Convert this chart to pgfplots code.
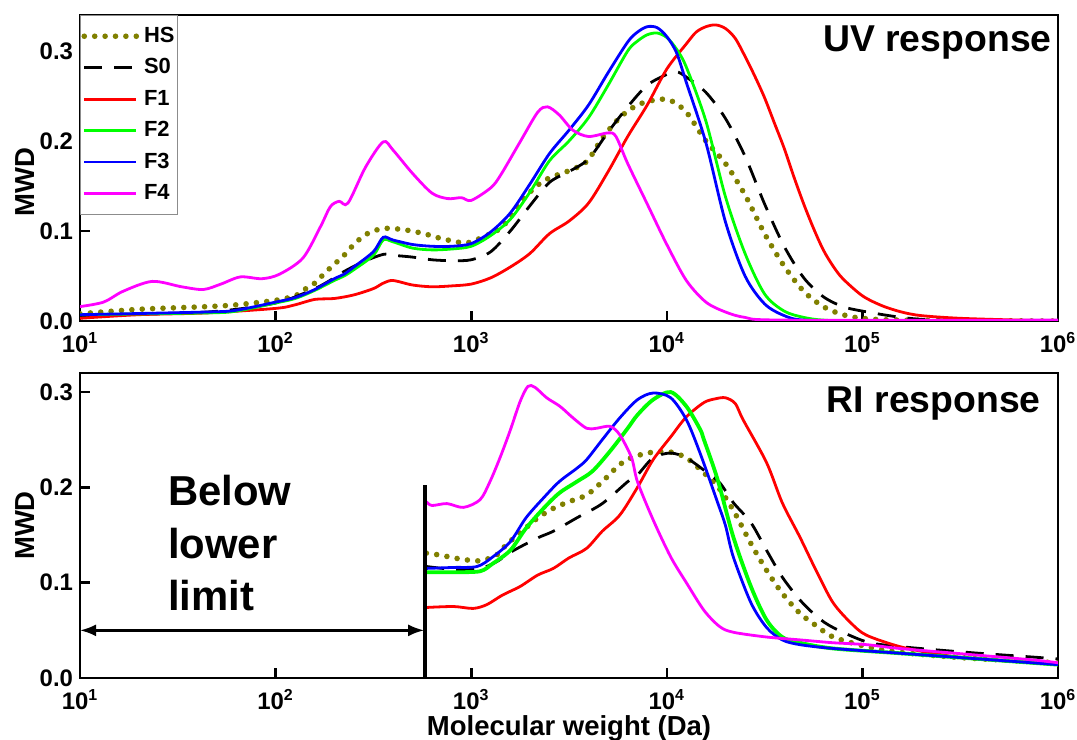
\documentclass[border=0pt]{standalone}
\usepackage{fontspec}
\setmainfont{Liberation Sans}
\usepackage{pgfplots}
\pgfplotsset{compat=1.18}
\usetikzlibrary{arrows.meta}
\definecolor{hsol}{RGB}{128,128,0}
\definecolor{cF1}{RGB}{255,0,0}
\definecolor{cF2}{RGB}{0,255,0}
\definecolor{cF3}{RGB}{0,0,255}
\definecolor{cF4}{RGB}{255,0,255}

\pgfplotsset{
  mwdaxis/.style={
    scale only axis, width=489bp,
    xmin=10, xmax=1e6, ymin=0,
    axis line style={line width=1.3bp},
    every tick/.style={line width=1.3bp, black},
    major tick length=5bp, tick align=inside,
    xtick pos=left, ytick pos=left, xminorticks=false,
    xtick={10,100,1000,10000,100000,1000000},
    xticklabels={10\textsuperscript{1},10\textsuperscript{2},10\textsuperscript{3},10\textsuperscript{4},10\textsuperscript{5},10\textsuperscript{6}},
    ytick={0,0.1,0.2,0.3},
    yticklabels={0.0,0.1,0.2,0.3},
    tick label style={font=\fontsize{12}{14}\selectfont\bfseries},
    xticklabel style={inner sep=0pt, yshift=-5.5bp},
    ylabel={MWD},
    every axis y label/.style={at={(rel axis cs:0,0.5)}, xshift=-27.5bp, rotate=90, anchor=center, inner sep=0pt, font=\fontsize{13.8}{15}\selectfont\bfseries},
    every axis x label/.style={at={(rel axis cs:0.5,0)}, anchor=north, yshift=-18.5bp, inner sep=0pt, font=\fontsize{13.8}{15}\selectfont\bfseries},
  },
  pHS/.style={color=hsol, line width=2.8bp, dash pattern=on 0bp off 5.2bp, line cap=round, smooth, tension=0.5},
  pS0/.style={color=black, line width=1.4bp, dash pattern=on 9bp off 6bp, smooth, tension=0.5},
  pF1/.style={color=cF1, line width=1.4bp, smooth, tension=0.5},
  pF2/.style={color=cF2, line width=1.4bp, smooth, tension=0.5},
  pF3/.style={color=cF3, line width=1.4bp, smooth, tension=0.5},
  pF4/.style={color=cF4, line width=1.4bp, smooth, tension=0.5},
}

\begin{document}
\begin{tikzpicture}
\useasboundingbox (-40bp,7.5bp) rectangle (498.5bp,-362.5bp);
% ---------------- top: UV response ----------------
\begin{axis}[xmode=log, mwdaxis, at={(0,0)}, anchor=north west, height=153bp, ymax=0.34,
  ylabel style={at={(rel axis cs:0,0.454)}},
  legend image code/.code={\draw[#1] (0bp,0bp) -- (26bp,0bp); \path (27.5bp,0bp);},
  legend style={at={(0,1)}, anchor=north west, draw=black!45, line width=0.5bp,
    font=\fontsize{11}{13}\selectfont\bfseries, inner xsep=0.5bp, inner ysep=2.5bp,
    nodes={inner xsep=1bp, inner ysep=3.3bp},
    row sep=0bp, fill=white},
  legend cell align=left]
\addplot[pHS] table {
10 0.008
20 0.013
44.7 0.016
63.1 0.018
100 0.023
125.9 0.028
138 0.034
158.5 0.042
177.8 0.053
199.5 0.063
223.9 0.073
251.2 0.085
288.4 0.096
338.8 0.102
380.2 0.103
467.7 0.101
575.4 0.097
691.8 0.092
891.3 0.087
1000 0.088
1259 0.097
1413 0.103
1585 0.115
1778 0.132
2188 0.151
2512 0.159
3162 0.167
3890 0.177
4677 0.203
5754 0.226
7079 0.240
8913 0.246
10471 0.245
12589 0.232
15849 0.200
19953 0.175
25119 0.140
31623 0.097
39811 0.061
50119 0.033
63096 0.016
79433 0.007
100000 0.003
158489 0.001
1000000 0.000
};
\addlegendentry{HS}
\addplot[pS0] table {
10 0.006
44.7 0.010
100 0.020
158.5 0.036
199.5 0.048
223.9 0.055
281.8 0.066
354.8 0.074
398.1 0.073
501.2 0.071
631 0.068
794.3 0.067
1000 0.068
1259 0.077
1585 0.100
1995 0.128
2512 0.154
3162 0.166
3981 0.180
5012 0.210
6310 0.238
7943 0.262
10000 0.274
11220 0.277
12589 0.271
15849 0.254
19953 0.225
25119 0.183
31623 0.130
39811 0.083
50119 0.048
63096 0.027
79433 0.016
100000 0.011
158489 0.004
251189 0.001
1000000 0.000
};
\addlegendentry{S0}
\addplot[pF1] table {
10 0.003
20 0.007
44.7 0.009
100 0.014
125.9 0.018
158.5 0.024
199.5 0.025
251.2 0.029
316.2 0.036
354.8 0.042
398.1 0.045
501.2 0.040
631 0.038
794.3 0.039
1000 0.041
1259 0.048
1585 0.060
1995 0.075
2512 0.097
3162 0.111
3981 0.131
5012 0.166
6310 0.205
7943 0.240
10000 0.280
12589 0.308
14125 0.321
15849 0.327
17783 0.329
19953 0.325
22387 0.314
25119 0.294
28184 0.272
31623 0.248
35481 0.220
39811 0.192
44668 0.160
50119 0.130
56234 0.103
63096 0.079
70795 0.061
79433 0.047
100000 0.028
125893 0.017
158489 0.010
199526 0.006
316228 0.003
630957 0.001
1000000 0.000
};
\addlegendentry{F1}
\addplot[pF2] table {
10 0.007
44.7 0.009
63.1 0.011
100 0.020
125.9 0.025
158.5 0.034
199.5 0.045
223.9 0.050
251.2 0.057
316.2 0.073
354.8 0.090
398.1 0.088
501.2 0.081
631 0.079
794.3 0.080
1000 0.083
1259 0.095
1585 0.113
1995 0.143
2512 0.178
3162 0.200
3981 0.226
5012 0.262
6310 0.300
7079 0.311
7943 0.318
8913 0.320
10000 0.315
11220 0.302
12589 0.282
15849 0.222
19953 0.138
25119 0.075
31623 0.030
39811 0.011
50119 0.004
63096 0.001
100000 0.000
1000000 0.000
};
\addlegendentry{F2}
\addplot[pF3] table {
10 0.007
44.7 0.010
63.1 0.012
100 0.021
125.9 0.026
158.5 0.035
199.5 0.047
223.9 0.052
251.2 0.060
316.2 0.077
354.8 0.093
398.1 0.090
501.2 0.085
631 0.083
794.3 0.083
1000 0.086
1259 0.099
1585 0.120
1995 0.152
2512 0.186
3162 0.212
3981 0.240
5012 0.276
6310 0.310
7079 0.321
7943 0.327
8913 0.326
10000 0.316
11220 0.298
12589 0.265
15849 0.198
19953 0.110
25119 0.050
31623 0.019
39811 0.006
50119 0.001
100000 0.000
1000000 0.000
};
\addlegendentry{F3}
\addplot[pF4] table {
10 0.016
13.2 0.021
16.6 0.033
23.4 0.044
33.1 0.038
42.7 0.035
52.5 0.041
66.1 0.049
85.1 0.047
104.7 0.052
138 0.070
169.8 0.105
190.5 0.127
211.3 0.133
234.4 0.131
288.4 0.171
354.8 0.199
398.1 0.190
501.2 0.164
631 0.142
758.6 0.136
891.3 0.137
1000 0.134
1259 0.148
1413 0.162
1778 0.199
2188 0.232
2455 0.238
2818 0.229
3311 0.212
3981 0.205
5012 0.209
5495 0.205
6310 0.175
7943 0.130
10000 0.085
12589 0.045
15849 0.021
19953 0.010
25119 0.004
39811 0.001
1000000 0.001
};
\addlegendentry{F4}
\node[anchor=north east, inner sep=0pt, font=\fontsize{18.75}{20}\selectfont\bfseries, xshift=-3bp, yshift=-5bp] at (rel axis cs:1,1) {UV response};
\end{axis}

% ---------------- bottom: RI response ----------------
\begin{axis}[xmode=log, mwdaxis, at={(0,-179bp)}, anchor=north west, height=152.5bp, ymax=0.32,
  xlabel={Molecular weight (Da)}]
\addplot[pHS] table {
590 0.131
692 0.129
871 0.125
1110 0.123
1349 0.129
1514 0.140
1820 0.154
2188 0.168
2630 0.178
3162 0.185
3890 0.192
4677 0.206
5754 0.224
6761 0.232
8511 0.237
10471 0.237
12589 0.231
15136 0.217
18197 0.201
21878 0.176
26915 0.141
32359 0.113
38905 0.089
47863 0.068
58884 0.054
70795 0.043
104713 0.033
154882 0.027
338844 0.021
1000000 0.016
};
\addplot[pS0] table {
590 0.117
813 0.114
1110 0.115
1349 0.122
1622 0.133
2188 0.147
2630 0.154
3467 0.168
4677 0.183
6310 0.206
7079 0.213
8511 0.231
10471 0.236
12589 0.231
15488 0.218
18621 0.205
21878 0.184
26915 0.163
32359 0.134
38905 0.106
47863 0.082
58884 0.064
70795 0.053
104713 0.038
154882 0.033
338844 0.027
741310 0.022
1000000 0.020
};
\addplot[pF1] table {
590 0.074
813 0.075
1023 0.073
1202 0.077
1445 0.087
1778 0.096
2188 0.108
2630 0.115
3162 0.126
3890 0.136
4677 0.154
5754 0.171
7079 0.200
8511 0.229
10471 0.253
12589 0.274
15488 0.289
17783 0.293
19953 0.294
22387 0.288
24547 0.271
32359 0.226
38905 0.184
47863 0.148
58884 0.110
70795 0.079
87096 0.058
104713 0.045
154882 0.033
229087 0.026
338844 0.021
741310 0.016
1000000 0.014
};
\addplot[pF2, line width=1.9bp] table {
590 0.111
813 0.111
1110 0.112
1288 0.120
1585 0.134
1905 0.157
2344 0.178
2818 0.194
3467 0.206
4169 0.217
5129 0.238
6310 0.262
7079 0.276
8511 0.292
10471 0.300
12589 0.285
14791 0.261
15488 0.250
18197 0.208
21878 0.148
26915 0.096
32359 0.061
38905 0.043
47863 0.037
70795 0.031
154882 0.026
338844 0.021
1000000 0.014
};
\addplot[pF3] table {
590 0.115
813 0.116
1072 0.117
1288 0.127
1585 0.143
1905 0.168
2344 0.189
2818 0.206
3467 0.220
3890 0.229
4677 0.250
5754 0.273
7079 0.292
8511 0.299
10471 0.294
12589 0.271
14791 0.236
18197 0.184
19953 0.160
21878 0.127
26915 0.079
32359 0.053
38905 0.040
47863 0.035
70795 0.031
154882 0.026
338844 0.021
1000000 0.014
};
\addplot[pF4] table {
590 0.185
630 0.181
752 0.183
912 0.179
1109 0.187
1247 0.206
1403 0.231
1578 0.259
1778 0.290
1950 0.306
2118 0.305
2432 0.294
2844 0.285
3311 0.273
3890 0.262
4365 0.262
5129 0.264
5754 0.255
6607 0.231
7079 0.206
8511 0.166
10471 0.127
12589 0.100
15488 0.071
18621 0.054
21878 0.048
32359 0.043
47863 0.040
70795 0.037
104713 0.035
154882 0.031
338844 0.025
741310 0.019
1000000 0.016
};
\draw[line width=1.6bp] (axis cs:580,0) -- (axis cs:580,0.203);
\draw[line width=1.3bp, {Latex[length=8bp,width=6bp]}-{Latex[length=8bp,width=6bp]}] (axis cs:10,0.05) -- (axis cs:575,0.05);
\node[anchor=north west, inner sep=0pt, align=left, font=\fontsize{21}{26.25}\selectfont\bfseries] at (axis cs:28.1,0.213) {Below\\lower\\limit};
\node[anchor=north east, inner sep=0pt, font=\fontsize{18.75}{20}\selectfont\bfseries, xshift=-8.5bp, yshift=-6.5bp] at (rel axis cs:1,1) {RI response};
\end{axis}
\end{tikzpicture}
\end{document}
